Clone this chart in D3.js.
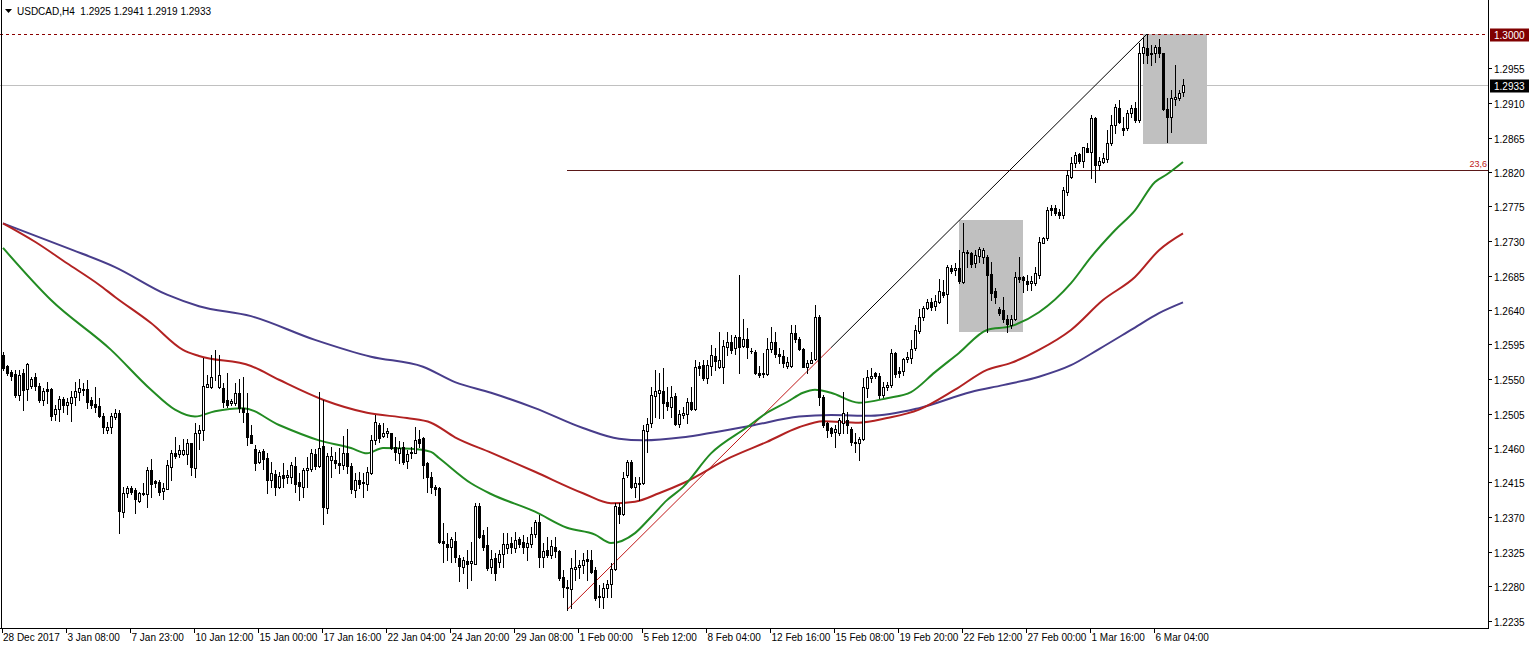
<!DOCTYPE html>
<html><head><meta charset="utf-8">
<script src="https://cdn.jsdelivr.net/npm/d3@7"></script>
<style>body{margin:0;background:#fff;} svg{display:block;font-family:'Liberation Sans',Arial,sans-serif;}</style>
</head><body><svg id="c" width="1529" height="649"></svg>
<script>
const symbol = "USDCAD,H4";
const lastQuote = [1.2925, 1.2941, 1.2919, 1.2933];
// [open, high, low, close] per H4 candle
const ohlc = [
[1.2581,1.2585,1.2562,1.2565],[1.2567,1.2568,1.2555,1.2558],[1.2559,1.2562,1.2549,1.2554],[1.2557,1.2562,1.2527,1.2529],
[1.2529,1.2562,1.2523,1.2555],[1.2558,1.2563,1.2510,1.2536],[1.2537,1.2571,1.2523,1.2570],[1.2541,1.2553,1.2538,1.2550],
[1.2553,1.2558,1.2536,1.2541],[1.2541,1.2545,1.2520,1.2523],[1.2523,1.2538,1.2516,1.2534],[1.2537,1.2546,1.2519,1.2534],
[1.2537,1.2538,1.2497,1.2502],[1.2504,1.2516,1.2497,1.2511],[1.2511,1.2528,1.2495,1.2524],[1.2524,1.2527,1.2507,1.2516],
[1.2516,1.2525,1.2504,1.2520],[1.2519,1.2534,1.2495,1.2527],[1.2527,1.2546,1.2516,1.2534],[1.2533,1.2550,1.2523,1.2538],
[1.2537,1.2545,1.2529,1.2536],[1.2537,1.2549,1.2512,1.2520],[1.2523,1.2527,1.2512,1.2516],[1.2517,1.2540,1.2507,1.2513],
[1.2515,1.2525,1.2501,1.2502],[1.2502,1.2506,1.2480,1.2487],[1.2484,1.2494,1.2480,1.2488],[1.2487,1.2506,1.2480,1.2502],
[1.2501,1.2511,1.2498,1.2506],[1.2506,1.2510,1.2349,1.2378],[1.2377,1.2409,1.2370,1.2401],[1.2401,1.2410,1.2396,1.2408],
[1.2408,1.2411,1.2400,1.2403],[1.2405,1.2408,1.2375,1.2394],[1.2391,1.2403,1.2390,1.2401],[1.2400,1.2414,1.2399,1.2401],
[1.2400,1.2435,1.2383,1.2431],[1.2431,1.2446,1.2396,1.2413],[1.2417,1.2418,1.2409,1.2414],[1.2416,1.2418,1.2399,1.2403],
[1.2404,1.2414,1.2394,1.2408],[1.2407,1.2444,1.2407,1.2438],[1.2435,1.2457,1.2418,1.2453],[1.2453,1.2474,1.2447,1.2449],
[1.2452,1.2464,1.2448,1.2457],[1.2452,1.2472,1.2451,1.2457],[1.2452,1.2472,1.2439,1.2467],[1.2467,1.2467,1.2425,1.2435],
[1.2434,1.2492,1.2422,1.2480],[1.2480,1.2490,1.2459,1.2484],[1.2483,1.2577,1.2470,1.2541],[1.2540,1.2555,1.2540,1.2544],
[1.2540,1.2581,1.2538,1.2553],[1.2552,1.2588,1.2549,1.2553],[1.2540,1.2581,1.2538,1.2555],[1.2538,1.2545,1.2514,1.2520],
[1.2523,1.2558,1.2514,1.2516],[1.2519,1.2524,1.2516,1.2521],[1.2519,1.2545,1.2516,1.2532],[1.2532,1.2550,1.2507,1.2512],
[1.2512,1.2553,1.2494,1.2507],[1.2506,1.2532,1.2464,1.2474],[1.2477,1.2490,1.2467,1.2467],[1.2459,1.2464,1.2431,1.2441],
[1.2442,1.2457,1.2441,1.2455],[1.2456,1.2459,1.2433,1.2446],[1.2447,1.2453,1.2401,1.2418],[1.2418,1.2442,1.2409,1.2427],
[1.2426,1.2431,1.2399,1.2409],[1.2409,1.2429,1.2408,1.2424],[1.2425,1.2440,1.2409,1.2421],[1.2422,1.2431,1.2414,1.2425],
[1.2422,1.2442,1.2414,1.2438],[1.2437,1.2448,1.2403,1.2413],[1.2416,1.2427,1.2392,1.2411],[1.2409,1.2434,1.2396,1.2431],
[1.2431,1.2448,1.2409,1.2434],[1.2433,1.2459,1.2430,1.2453],[1.2452,1.2459,1.2433,1.2437],[1.2437,1.2533,1.2435,1.2460],
[1.2463,1.2523,1.2361,1.2383],[1.2382,1.2454,1.2375,1.2450],[1.2444,1.2461,1.2422,1.2450],[1.2444,1.2455,1.2434,1.2440],
[1.2440,1.2460,1.2427,1.2438],[1.2438,1.2476,1.2433,1.2453],[1.2453,1.2485,1.2427,1.2437],[1.2437,1.2441,1.2401,1.2407],
[1.2405,1.2427,1.2396,1.2418],[1.2418,1.2429,1.2408,1.2413],[1.2414,1.2427,1.2396,1.2415],[1.2413,1.2435,1.2405,1.2429],
[1.2427,1.2477,1.2426,1.2470],[1.2470,1.2503,1.2465,1.2494],[1.2490,1.2492,1.2468,1.2473],[1.2476,1.2493,1.2474,1.2480],
[1.2480,1.2486,1.2474,1.2482],[1.2480,1.2480,1.2459,1.2460],[1.2461,1.2474,1.2444,1.2455],[1.2453,1.2469,1.2441,1.2460],
[1.2461,1.2468,1.2439,1.2442],[1.2443,1.2457,1.2434,1.2452],[1.2455,1.2461,1.2447,1.2453],[1.2453,1.2487,1.2453,1.2470],
[1.2472,1.2484,1.2461,1.2467],[1.2473,1.2474,1.2421,1.2438],[1.2441,1.2442,1.2403,1.2422],[1.2422,1.2429,1.2401,1.2409],
[1.2409,1.2412,1.2399,1.2407],[1.2408,1.2409,1.2336,1.2337],[1.2339,1.2362,1.2311,1.2336],[1.2335,1.2349,1.2314,1.2331],
[1.2331,1.2344,1.2311,1.2341],[1.2339,1.2351,1.2311,1.2318],[1.2317,1.2320,1.2287,1.2306],[1.2305,1.2318,1.2297,1.2314],
[1.2313,1.2327,1.2277,1.2309],[1.2310,1.2337,1.2288,1.2313],[1.2309,1.2388,1.2309,1.2384],[1.2384,1.2388,1.2343,1.2344],
[1.2347,1.2353,1.2327,1.2331],[1.2334,1.2357,1.2301,1.2304],[1.2305,1.2327,1.2297,1.2315],[1.2317,1.2323,1.2288,1.2297],
[1.2311,1.2327,1.2305,1.2322],[1.2322,1.2349,1.2305,1.2335],[1.2330,1.2349,1.2323,1.2335],[1.2336,1.2344,1.2323,1.2331],
[1.2330,1.2351,1.2324,1.2340],[1.2341,1.2344,1.2331,1.2335],[1.2337,1.2347,1.2323,1.2331],[1.2331,1.2344,1.2314,1.2336],
[1.2335,1.2357,1.2331,1.2348],[1.2348,1.2366,1.2344,1.2364],[1.2364,1.2373,1.2305,1.2318],[1.2318,1.2336,1.2305,1.2326],
[1.2327,1.2344,1.2318,1.2320],[1.2320,1.2340,1.2317,1.2332],[1.2331,1.2344,1.2318,1.2326],[1.2326,1.2327,1.2288,1.2290],
[1.2292,1.2301,1.2266,1.2279],[1.2279,1.2288,1.2249,1.2277],[1.2276,1.2317,1.2251,1.2303],[1.2302,1.2327,1.2288,1.2305],
[1.2305,1.2314,1.2290,1.2307],[1.2307,1.2323,1.2297,1.2314],[1.2315,1.2327,1.2288,1.2313],[1.2314,1.2327,1.2297,1.2298],
[1.2301,1.2305,1.2262,1.2264],[1.2266,1.2281,1.2253,1.2267],[1.2266,1.2284,1.2251,1.2277],[1.2277,1.2288,1.2266,1.2283],
[1.2282,1.2310,1.2266,1.2302],[1.2302,1.2388,1.2301,1.2384],[1.2383,1.2388,1.2362,1.2374],[1.2374,1.2429,1.2373,1.2421],
[1.2425,1.2444,1.2422,1.2442],[1.2442,1.2444,1.2408,1.2409],[1.2409,1.2422,1.2396,1.2414],[1.2413,1.2422,1.2392,1.2414],
[1.2414,1.2490,1.2413,1.2484],[1.2482,1.2499,1.2455,1.2491],[1.2492,1.2540,1.2488,1.2529],[1.2528,1.2562,1.2501,1.2534],
[1.2532,1.2558,1.2499,1.2536],[1.2534,1.2564,1.2499,1.2519],[1.2520,1.2540,1.2510,1.2515],[1.2514,1.2541,1.2501,1.2527],
[1.2528,1.2532,1.2490,1.2491],[1.2491,1.2510,1.2487,1.2504],[1.2503,1.2514,1.2499,1.2506],[1.2504,1.2525,1.2493,1.2520],
[1.2520,1.2540,1.2510,1.2511],[1.2511,1.2575,1.2510,1.2566],[1.2567,1.2572,1.2555,1.2564],[1.2568,1.2575,1.2549,1.2551],
[1.2551,1.2575,1.2545,1.2568],[1.2567,1.2594,1.2555,1.2581],[1.2580,1.2590,1.2562,1.2573],[1.2566,1.2611,1.2565,1.2575],
[1.2566,1.2601,1.2545,1.2593],[1.2592,1.2611,1.2581,1.2598],[1.2598,1.2607,1.2584,1.2588],[1.2590,1.2607,1.2583,1.2605],
[1.2605,1.2686,1.2558,1.2592],[1.2593,1.2628,1.2592,1.2602],[1.2602,1.2617,1.2577,1.2592],[1.2587,1.2590,1.2584,1.2586],
[1.2585,1.2588,1.2557,1.2558],[1.2558,1.2567,1.2553,1.2555],[1.2558,1.2584,1.2553,1.2557],[1.2557,1.2604,1.2555,1.2589],
[1.2589,1.2618,1.2585,1.2598],[1.2598,1.2611,1.2579,1.2583],[1.2582,1.2590,1.2571,1.2580],[1.2580,1.2588,1.2566,1.2571],
[1.2567,1.2579,1.2565,1.2572],[1.2567,1.2620,1.2566,1.2610],[1.2610,1.2620,1.2598,1.2602],[1.2602,1.2605,1.2588,1.2589],
[1.2589,1.2590,1.2566,1.2566],[1.2566,1.2575,1.2558,1.2571],[1.2571,1.2585,1.2571,1.2575],[1.2576,1.2647,1.2575,1.2631],
[1.2631,1.2634,1.2516,1.2527],[1.2527,1.2529,1.2487,1.2490],[1.2493,1.2494,1.2474,1.2484],[1.2486,1.2487,1.2476,1.2480],
[1.2481,1.2490,1.2461,1.2485],[1.2480,1.2499,1.2477,1.2497],[1.2492,1.2533,1.2480,1.2506],[1.2497,1.2507,1.2480,1.2490],
[1.2485,1.2487,1.2464,1.2468],[1.2468,1.2480,1.2455,1.2467],[1.2467,1.2474,1.2444,1.2472],[1.2472,1.2551,1.2470,1.2540],
[1.2538,1.2562,1.2527,1.2553],[1.2551,1.2564,1.2546,1.2554],[1.2558,1.2559,1.2551,1.2554],[1.2554,1.2558,1.2525,1.2529],
[1.2529,1.2546,1.2527,1.2540],[1.2540,1.2546,1.2536,1.2542],[1.2542,1.2589,1.2540,1.2584],[1.2584,1.2585,1.2553,1.2557],
[1.2560,1.2566,1.2553,1.2558],[1.2560,1.2577,1.2555,1.2576],[1.2576,1.2585,1.2572,1.2579],[1.2577,1.2601,1.2571,1.2589],
[1.2590,1.2620,1.2588,1.2614],[1.2613,1.2641,1.2610,1.2631],[1.2631,1.2645,1.2627,1.2643],[1.2643,1.2654,1.2641,1.2650],
[1.2650,1.2656,1.2640,1.2644],[1.2645,1.2660,1.2640,1.2652],[1.2650,1.2680,1.2649,1.2665],[1.2664,1.2679,1.2657,1.2660],
[1.2661,1.2699,1.2623,1.2696],[1.2695,1.2699,1.2688,1.2691],[1.2692,1.2701,1.2686,1.2695],[1.2695,1.2718,1.2675,1.2678],
[1.2677,1.2753,1.2675,1.2716],[1.2714,1.2718,1.2696,1.2716],[1.2714,1.2716,1.2696,1.2700],[1.2701,1.2718,1.2696,1.2712],
[1.2710,1.2722,1.2703,1.2720],[1.2709,1.2721,1.2701,1.2718],[1.2709,1.2712,1.2611,1.2686],[1.2687,1.2703,1.2653,1.2662],
[1.2665,1.2669,1.2649,1.2657],[1.2641,1.2644,1.2633,1.2636],[1.2640,1.2657,1.2624,1.2628],[1.2628,1.2633,1.2611,1.2622],
[1.2621,1.2633,1.2616,1.2628],[1.2628,1.2690,1.2627,1.2683],[1.2683,1.2709,1.2677,1.2680],[1.2683,1.2684,1.2664,1.2679],
[1.2678,1.2686,1.2666,1.2674],[1.2675,1.2684,1.2666,1.2678],[1.2675,1.2696,1.2673,1.2688],[1.2686,1.2735,1.2682,1.2729],
[1.2727,1.2735,1.2727,1.2734],[1.2734,1.2774,1.2731,1.2770],[1.2773,1.2777,1.2764,1.2770],[1.2773,1.2777,1.2764,1.2767],
[1.2768,1.2772,1.2760,1.2764],[1.2764,1.2800,1.2760,1.2797],[1.2794,1.2823,1.2790,1.2816],[1.2814,1.2840,1.2812,1.2832],
[1.2832,1.2846,1.2827,1.2842],[1.2843,1.2845,1.2832,1.2834],[1.2834,1.2853,1.2827,1.2853],[1.2851,1.2858,1.2846,1.2846],
[1.2846,1.2894,1.2812,1.2890],[1.2890,1.2892,1.2807,1.2829],[1.2829,1.2840,1.2823,1.2834],[1.2833,1.2845,1.2832,1.2838],
[1.2837,1.2875,1.2833,1.2858],[1.2858,1.2894,1.2855,1.2881],[1.2881,1.2909,1.2871,1.2905],[1.2904,1.2914,1.2884,1.2885],
[1.2877,1.2892,1.2868,1.2875],[1.2877,1.2901,1.2875,1.2897],[1.2897,1.2907,1.2892,1.2904],[1.2904,1.2911,1.2885,1.2888],
[1.2888,1.2988,1.2885,1.2975],[1.2975,1.2996,1.2962,1.2983],[1.2982,1.3000,1.2962,1.2973],[1.2975,1.2986,1.2960,1.2974],
[1.2975,1.2986,1.2963,1.2983],[1.2983,1.2993,1.2970,1.2975],[1.2975,1.2975,1.2901,1.2902],[1.2902,1.2917,1.2859,1.2892],
[1.2892,1.2927,1.2872,1.2917],[1.2915,1.2960,1.2907,1.2918],[1.2917,1.2927,1.2914,1.2923],[1.2925,1.2941,1.2919,1.2933]
];
// moving averages: [candle index, value]
const maGreen = [[0,1.2721],[12,1.2653],[27,1.2588],[37,1.2536],[43,1.2510],[48,1.2501],[53,1.2508],[60,1.2512],[69,1.2490],[79,1.2470],[87,1.2460],[91,1.2453],[95,1.2460],[102,1.2459],[107,1.2455],[109,1.2447],[117,1.2414],[122,1.2400],[133,1.2377],[141,1.2356],[148,1.2347],[152,1.2336],[158,1.2349],[162,1.2370],[166,1.2392],[170,1.2409],[177,1.2453],[186,1.2487],[191,1.2506],[196,1.2520],[200,1.2532],[203,1.2536],[207,1.2532],[214,1.2519],[221,1.2525],[227,1.2533],[233,1.2559],[239,1.2584],[246,1.2614],[252,1.2619],[259,1.2637],[267,1.2675],[272,1.2709],[278,1.2744],[283,1.2770],[288,1.2807],[291,1.2817],[295,1.2833]];
const maRed = [[0,1.2753],[8,1.2729],[16,1.2701],[24,1.2673],[28,1.2657],[37,1.2623],[45,1.2588],[49,1.2580],[62,1.2567],[69,1.2549],[80,1.2523],[91,1.2506],[101,1.2499],[107,1.2493],[113,1.2474],[122,1.2454],[133,1.2429],[145,1.2401],[152,1.2388],[158,1.2390],[164,1.2401],[170,1.2414],[182,1.2448],[191,1.2468],[199,1.2487],[205,1.2495],[214,1.2493],[221,1.2499],[229,1.2510],[238,1.2536],[246,1.2562],[252,1.2571],[259,1.2588],[267,1.2614],[275,1.2653],[283,1.2683],[289,1.2718],[295,1.2740]];
const maBlue = [[0,1.2753],[16,1.2721],[28,1.2696],[41,1.2660],[49,1.2645],[62,1.2632],[78,1.2601],[92,1.2579],[105,1.2566],[113,1.2546],[122,1.2532],[133,1.2512],[145,1.2486],[154,1.2472],[160,1.2470],[170,1.2474],[174,1.2477],[187,1.2489],[199,1.2501],[207,1.2503],[217,1.2502],[229,1.2512],[242,1.2533],[250,1.2542],[259,1.2553],[267,1.2568],[274,1.2589],[282,1.2614],[289,1.2636],[295,1.2650]];
const dateLabels = ["28 Dec 2017","3 Jan 08:00","7 Jan 23:00","10 Jan 12:00","15 Jan 00:00","17 Jan 16:00","22 Jan 04:00","24 Jan 20:00","29 Jan 08:00","1 Feb 00:00","5 Feb 12:00","8 Feb 04:00","12 Feb 16:00","15 Feb 08:00","19 Feb 20:00","22 Feb 12:00","27 Feb 00:00","1 Mar 16:00","6 Mar 04:00"];
const labelEvery = 16;
const priceTicks = [1.2955,1.2910,1.2865,1.2820,1.2775,1.2730,1.2685,1.2640,1.2595,1.2550,1.2505,1.2460,1.2415,1.2370,1.2325,1.2280,1.2235];
const resistanceLevel = 1.3000;
const bidLevel = 1.2933;
const fibStart = [141, 1.2249];
const fibEnd = [286, 1.3000];
const fibColourSplit = 207;
const fibLevel = 1.2823;
const fibLabel = "23,6";
const boxes = [[239, 255, 1.2757, 1.2611], [285, 301, 1.3000, 1.2857]];

const W = 1529, H = 649, PR = 1488, PB = 628;
const svg = d3.select("#c");
const x = d3.scaleLinear().domain([0, ohlc.length - 1]).range([3, 3 + 4 * (ohlc.length - 1)]);
const y = d3.scaleLinear().domain([1.2235, 1.3000]).range([620.5, 34]);
const px = v => Math.round(x(v));
const py = v => Math.round(y(v));

svg.append("defs").append("clipPath").attr("id","plot").append("rect").attr("x",0).attr("y",0).attr("width",PR).attr("height",PB);
const g = svg.append("g").attr("clip-path","url(#plot)");

// boxes
g.selectAll(".box").data(boxes).enter().append("rect")
  .attr("x", d => px(d[0])).attr("y", d => py(d[2]))
  .attr("width", d => px(d[1]) - px(d[0])).attr("height", d => py(d[3]) - py(d[2]))
  .attr("fill", "#c0c0c0");

// horizontal lines
g.append("line").attr("x1",0).attr("x2",PR).attr("y1",py(bidLevel)+0.5).attr("y2",py(bidLevel)+0.5).attr("stroke","#c0c0c0");
g.append("line").attr("x1",0).attr("x2",PR).attr("y1",py(resistanceLevel)+0.5).attr("y2",py(resistanceLevel)+0.5)
  .attr("stroke","#8b0000").attr("stroke-dasharray","3,3");
g.append("line").attr("x1",px(fibStart[0])).attr("x2",PR).attr("y1",py(fibLevel)+0.5).attr("y2",py(fibLevel)+0.5).attr("stroke","#5a1818");
svg.append("text").attr("x",PR-1).attr("y",py(fibLevel)-3).attr("text-anchor","end").attr("font-size",9).attr("fill","#c02020").text(fibLabel);

// trend (fibo baseline): red lower part, black upper part
const slope = (fibEnd[1] - fibStart[1]) / (fibEnd[0] - fibStart[0]);
const splitP = fibStart[1] + slope * (fibColourSplit - fibStart[0]);
g.append("line").attr("x1",x(fibStart[0])).attr("y1",y(fibStart[1])).attr("x2",x(fibColourSplit)).attr("y2",y(splitP))
  .attr("stroke","#c01818").attr("stroke-width",1);
g.append("line").attr("x1",x(fibColourSplit)).attr("y1",y(splitP)).attr("x2",x(fibEnd[0])).attr("y2",y(fibEnd[1]))
  .attr("stroke","#000").attr("stroke-width",1);

// moving averages
const line = d3.line().x(d => x(d[0])).y(d => y(d[1])).curve(d3.curveMonotoneX);
[[maBlue,"#483d8b"],[maRed,"#b22222"],[maGreen,"#228b22"]].forEach(([d,c]) => {
  g.append("path").attr("d", line(d)).attr("fill","none").attr("stroke",c).attr("stroke-width",2);
});

// candles
const cg = g.append("g");
ohlc.forEach((d, i) => {
  const [o,h,l,c] = d;
  const cx = px(i);
  cg.append("line").attr("x1",cx+0.5).attr("x2",cx+0.5).attr("y1",py(h)).attr("y2",py(l)+1).attr("stroke","#000");
  const top = py(Math.max(o,c)), bot = py(Math.min(o,c));
  if (c >= o) {
    cg.append("rect").attr("x",cx-0.5).attr("y",top+0.5).attr("width",2).attr("height",Math.max(bot-top,0))
      .attr("fill","#fff").attr("stroke","#000");
  } else {
    cg.append("rect").attr("x",cx-1).attr("y",top).attr("width",3).attr("height",Math.max(bot-top+1,1)).attr("fill","#000");
  }
});

// frame
svg.append("line").attr("x1",PR+0.5).attr("x2",PR+0.5).attr("y1",0).attr("y2",PB+1).attr("stroke","#000");
svg.append("line").attr("x1",0).attr("x2",PR+1).attr("y1",PB+0.5).attr("y2",PB+0.5).attr("stroke","#000");
svg.append("line").attr("x1",1.5).attr("x2",1.5).attr("y1",0).attr("y2",PB).attr("stroke","#000");

// price axis
const ax = svg.append("g").attr("font-size",10).attr("fill","#000");
priceTicks.forEach(p => {
  const yy = py(p) + 0.5;
  ax.append("line").attr("x1",PR).attr("x2",PR+4).attr("y1",yy).attr("y2",yy).attr("stroke","#000");
  ax.append("text").attr("x",PR+6).attr("y",yy+1).attr("dy","0.35em").text(p.toFixed(4));
});
[[resistanceLevel,"#800000"],[bidLevel,"#000"]].forEach(([p,c]) => {
  const yy = py(p) + 0.5;
  ax.append("rect").attr("x",PR+2).attr("y",yy-6).attr("width",W-PR-2).attr("height",13).attr("fill",c);
  ax.append("text").attr("x",PR+6).attr("y",yy+1).attr("dy","0.35em").attr("fill","#fff").text(p.toFixed(4));
});

// time axis
const tx = svg.append("g").attr("font-size",10).attr("fill","#000");
dateLabels.forEach((lab, k) => {
  const xx = px(k * labelEvery) - 0.5;
  tx.append("line").attr("x1",xx).attr("x2",xx).attr("y1",PB).attr("y2",PB+5).attr("stroke","#000");
  tx.append("text").attr("x", k === 0 ? 3 : xx + 1).attr("y",PB+13).text(lab);
});

// header
svg.append("path").attr("d","M5,9 L12,9 L8.5,13 Z").attr("fill","#000");
svg.append("text").attr("x",17).attr("y",15).attr("font-size",10).attr("fill","#000")
  .attr("xml:space","preserve").style("white-space","pre")
  .text(symbol + "  " + lastQuote.map(v => v.toFixed(4)).join(" "));
</script></body></html>
